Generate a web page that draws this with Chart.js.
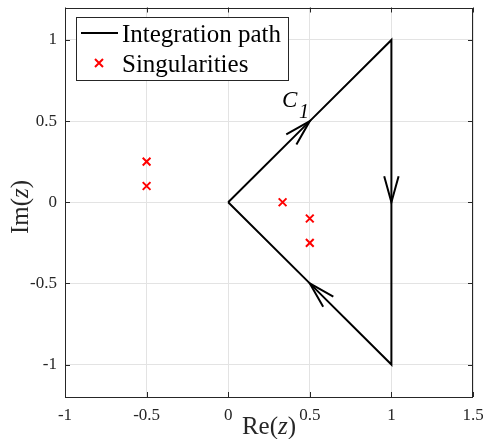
<!DOCTYPE html>
<html><head><meta charset="utf-8">
<script src="https://cdn.jsdelivr.net/npm/chart.js@4"></script>
<style>html,body{margin:0;padding:0;background:#fff}</style>
</head><body>
<canvas id="c" width="483" height="439"></canvas>
<script>
// ---- data ----
const pathX = [0, 0.5, 1, 1, 1, 0.5, 0];
const pathY = [0, 0.5, 1, 0, -1, -0.5, 0];
const singX = [-0.5, -0.5, 0.3333, 0.5, 0.5];
const singY = [0.25, 0.1, 0, -0.1, -0.25];
const arrowTipX = [0.5, 1, 0.5];
const arrowTipY = [0.5, 0, -0.5];
const arrowFromX = [0, 1, 1];
const arrowFromY = [0, 1, -1];
const xTicks = [-1, -0.5, 0, 0.5, 1, 1.5];
const yTicks = [-1, -0.5, 0, 0.5, 1];
const xRange = [-1, 1.5];
const yRange = [-1.2, 1.2];
const legendLabels = ['Integration path', 'Singularities'];

const SERIF = '"Liberation Serif", "Times New Roman", serif';
const AXC = '#262626';

function richText(ctx, parts, x, y, align) {
  let w = 0;
  parts.forEach(p => { ctx.font = (p[1] ? 'italic ' : '') + p[2] + 'px ' + SERIF; w += ctx.measureText(p[0]).width; });
  let cx = align === 'center' ? x - w / 2 : x;
  ctx.textAlign = 'left';
  parts.forEach(p => { ctx.font = (p[1] ? 'italic ' : '') + p[2] + 'px ' + SERIF; ctx.fillText(p[0], cx, y); cx += ctx.measureText(p[0]).width; });
}

const deco = {
  id: 'deco',
  afterDatasetsDraw(chart) {
    const { ctx, chartArea: a, scales: { x, y } } = chart;
    ctx.save();
    // box
    ctx.strokeStyle = AXC; ctx.lineWidth = 1;
    ctx.strokeRect(Math.round(a.left) + 0.5, Math.round(a.top) + 0.5, Math.round(a.right - a.left) - 1, Math.round(a.bottom - a.top) - 1);
    // inner ticks
    const tl = 5;
    ctx.beginPath();
    xTicks.forEach(v => {
      const px = Math.round(x.getPixelForValue(v)) + 0.5;
      ctx.moveTo(px, a.bottom); ctx.lineTo(px, a.bottom - tl);
      ctx.moveTo(px, a.top); ctx.lineTo(px, a.top + tl);
    });
    yTicks.forEach(v => {
      const py = Math.round(y.getPixelForValue(v)) + 0.5;
      ctx.moveTo(a.left, py); ctx.lineTo(a.left + tl, py);
      ctx.moveTo(a.right, py); ctx.lineTo(a.right - tl, py);
    });
    ctx.stroke();
    // arrows
    ctx.strokeStyle = '#000'; ctx.lineWidth = 2; ctx.lineCap = 'butt';
    for (let i = 0; i < arrowTipX.length; i++) {
      const tx = x.getPixelForValue(arrowTipX[i]), ty = y.getPixelForValue(arrowTipY[i]);
      const fx = x.getPixelForValue(arrowFromX[i]), fy = y.getPixelForValue(arrowFromY[i]);
      const ang = Math.atan2(ty - fy, tx - fx);
      const L = 27, h = 0.27;
      ctx.beginPath();
      ctx.moveTo(tx - L * Math.cos(ang - h), ty - L * Math.sin(ang - h));
      ctx.lineTo(tx, ty);
      ctx.lineTo(tx - L * Math.cos(ang + h), ty - L * Math.sin(ang + h));
      ctx.stroke();
    }
    // C1 label
    ctx.fillStyle = '#000'; ctx.textBaseline = 'alphabetic';
    ctx.font = 'italic 23px ' + SERIF; ctx.textAlign = 'left';
    ctx.fillText('C', 282, 107);
    ctx.font = 'italic 20px ' + SERIF;
    ctx.fillText('1', 299, 118);
    // axis labels
    ctx.fillStyle = AXC;
    richText(ctx, [['Re(', false, 25], ['z', true, 25], [')', false, 25]], (a.left + a.right) / 2, 434, 'center');
    ctx.save();
    ctx.translate(28, 207);
    ctx.rotate(-Math.PI / 2);
    richText(ctx, [['Im(', false, 25], ['z', true, 25], [')', false, 25]], 0, 0, 'center');
    ctx.restore();
    // legend
    const lx = 76.5, ly = 17.5, lw = 212, lh = 63;
    ctx.fillStyle = '#fff'; ctx.fillRect(lx, ly, lw, lh);
    ctx.strokeStyle = AXC; ctx.lineWidth = 1; ctx.strokeRect(lx, ly, lw, lh);
    ctx.strokeStyle = '#000'; ctx.lineWidth = 2;
    ctx.beginPath(); ctx.moveTo(81, 33); ctx.lineTo(118, 33); ctx.stroke();
    ctx.strokeStyle = '#ff0000'; ctx.lineWidth = 2;
    ctx.beginPath();
    ctx.moveTo(95, 59); ctx.lineTo(103, 67); ctx.moveTo(103, 59); ctx.lineTo(95, 67); ctx.stroke();
    ctx.fillStyle = '#000'; ctx.font = '25px ' + SERIF; ctx.textAlign = 'left';
    ctx.fillText(legendLabels[0], 122, 42);
    ctx.fillText(legendLabels[1], 122, 72);
    ctx.restore();
  }
};

new Chart(document.getElementById('c'), {
  type: 'scatter',
  data: {
    datasets: [
      {
        label: legendLabels[0], showLine: true,
        data: pathX.map((v, i) => ({ x: v, y: pathY[i] })),
        borderColor: '#000', borderWidth: 2, pointRadius: 0, fill: false, tension: 0,
        borderJoinStyle: 'miter'
      },
      {
        label: legendLabels[1], showLine: false,
        data: singX.map((v, i) => ({ x: v, y: singY[i] })),
        pointStyle: 'crossRot', pointRadius: 5.5, borderColor: '#ff0000', pointBorderWidth: 2,
        backgroundColor: '#ff0000'
      }
    ]
  },
  options: {
    responsive: false, animation: false, devicePixelRatio: 1,
    layout: { padding: { left: 0, right: 10, top: 6, bottom: 0 } },
    plugins: { legend: { display: false }, tooltip: { enabled: false } },
    scales: {
      x: {
        type: 'linear', min: xRange[0], max: xRange[1],
        afterBuildTicks: s => { s.ticks = xTicks.map(v => ({ value: v })); },
        afterFit: s => { s.height = 42; s.paddingLeft = 0; s.paddingRight = 0; },
        ticks: { callback: v => String(v), font: { family: SERIF, size: 17 }, color: AXC, padding: 8, maxRotation: 0 },
        grid: { color: '#e3e3e3', drawTicks: false, tickLength: 0 },
        border: { display: false }
      },
      y: {
        type: 'linear', min: yRange[0], max: yRange[1],
        afterBuildTicks: s => { s.ticks = yTicks.map(v => ({ value: v })); },
        afterFit: s => { s.width = 65; s.paddingTop = 0; s.paddingBottom = 0; },
        ticks: { callback: v => String(v), font: { family: SERIF, size: 17 }, color: AXC, padding: 8 },
        grid: { color: '#e3e3e3', drawTicks: false, tickLength: 0 },
        border: { display: false }
      }
    }
  },
  plugins: [deco]
});
</script>
</body></html>
